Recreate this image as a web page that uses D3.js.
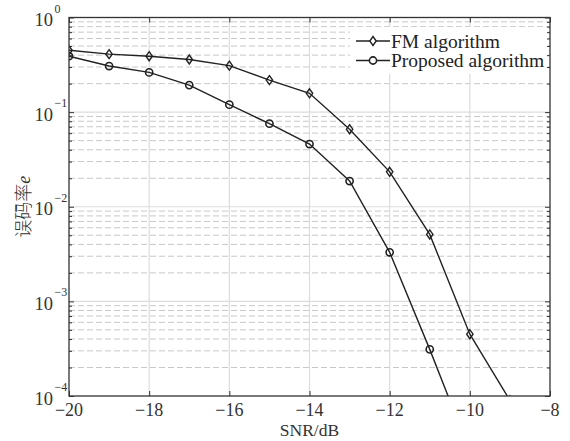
<!doctype html>
<html>
<head>
<meta charset="utf-8">
<script src="https://cdn.jsdelivr.net/npm/d3@7"></script>
<style>
  body { margin: 0; background: #fff; }
</style>
</head>
<body>
<svg id="chart" width="570" height="441" font-family="'Liberation Serif', 'Times New Roman', serif"></svg>
<script>
// values
const snr = [-20, -19, -18, -17, -16, -15, -14, -13, -12, -11, -10, -9];
const fmBer = [0.45, 0.41, 0.39, 0.36, 0.31, 0.218, 0.158, 0.066, 0.0234, 0.0051, 0.00045, 0.00009];
const snrProp = [-20, -19, -18, -17, -16, -15, -14, -13, -12, -11, -10];
const propBer = [0.39, 0.307, 0.263, 0.193, 0.120, 0.0755, 0.046, 0.0187, 0.0033, 0.000311, 0.000026];
const xTicks = [-20, -18, -16, -14, -12, -10, -8];
const yExps = [0, -1, -2, -3, -4];
const legendNames = ["FM algorithm", "Proposed algorithm"];

const svg = d3.select("#chart");
const margin = {top: 17.5, left: 69};
const W = 550, H = 396;
const ink = "#222";

const x = d3.scaleLinear().domain([-20, -8]).range([margin.left, W]);
const y = d3.scaleLog().domain([1e-4, 1]).range([H, margin.top]);

// minor decade values
const minors = [];
for (let e = -4; e < 0; e++) for (let m = 2; m <= 9; m++) minors.push(m * Math.pow(10, e));

svg.append("defs").append("clipPath").attr("id", "clip")
  .append("rect").attr("x", margin.left).attr("y", margin.top)
  .attr("width", W - margin.left).attr("height", H - margin.top);

const grid = svg.append("g");
grid.selectAll(".mn").data(minors).enter().append("line")
  .attr("x1", margin.left).attr("x2", W)
  .attr("y1", d => y(d)).attr("y2", d => y(d))
  .attr("stroke", "#c8c8c8").attr("stroke-width", 1).attr("stroke-dasharray", "6,3");
grid.selectAll(".mj").data(yExps.slice(1, 4)).enter().append("line")
  .attr("x1", margin.left).attr("x2", W)
  .attr("y1", d => y(Math.pow(10, d))).attr("y2", d => y(Math.pow(10, d)))
  .attr("stroke", "#dcdcdc").attr("stroke-width", 1.2);
grid.selectAll(".vx").data(xTicks.slice(1, -1)).enter().append("line")
  .attr("x1", d => x(d)).attr("x2", d => x(d))
  .attr("y1", margin.top).attr("y2", H)
  .attr("stroke", "#dcdcdc").attr("stroke-width", 1.2);

// series
const plot = svg.append("g").attr("clip-path", "url(#clip)");
const fmData = snr.map((s, i) => ({x: s, y: fmBer[i]}));
const propData = snrProp.map((s, i) => ({x: s, y: propBer[i]}));
const line = d3.line().x(d => x(d.x)).y(d => y(d.y));

plot.append("path").datum(fmData).attr("d", line)
  .attr("fill", "none").attr("stroke", ink).attr("stroke-width", 1.4);
plot.append("path").datum(propData).attr("d", line)
  .attr("fill", "none").attr("stroke", ink).attr("stroke-width", 1.4);

const diamond = "M0,-4.5L3.2,0L0,4.5L-3.2,0Z";
plot.selectAll(".dm").data(fmData).enter().append("path")
  .attr("d", diamond)
  .attr("transform", d => `translate(${x(d.x)},${y(d.y)})`)
  .attr("fill", "none").attr("stroke", ink).attr("stroke-width", 1.4);
plot.selectAll(".ci").data(propData).enter().append("circle")
  .attr("cx", d => x(d.x)).attr("cy", d => y(d.y)).attr("r", 3.6)
  .attr("fill", "none").attr("stroke", ink).attr("stroke-width", 1.6);

// legend
const lg = svg.append("g");
lg.append("rect").attr("x", 350).attr("y", 27).attr("width", 198).attr("height", 47).attr("fill", "#fff");
legendNames.forEach((name, i) => {
  const ly = 41 + i * 19.5;
  lg.append("line").attr("x1", 356).attr("x2", 390).attr("y1", ly).attr("y2", ly)
    .attr("stroke", ink).attr("stroke-width", 1.4);
  if (i === 0) {
    lg.append("path").attr("d", diamond).attr("transform", `translate(373,${ly})`)
      .attr("fill", "#fff").attr("stroke", ink).attr("stroke-width", 1.4);
  } else {
    lg.append("circle").attr("cx", 373).attr("cy", ly).attr("r", 3.6)
      .attr("fill", "#fff").attr("stroke", ink).attr("stroke-width", 1.6);
  }
  lg.append("text").attr("x", 391).attr("y", ly + 6.5).attr("font-size", 19.5)
    .attr("fill", ink).text(name);
});

// axes box and ticks
const axisCol = "#333";
svg.append("rect").attr("x", margin.left).attr("y", margin.top)
  .attr("width", W - margin.left).attr("height", H - margin.top)
  .attr("fill", "none").attr("stroke", axisCol).attr("stroke-width", 1.3);

svg.append("g").attr("transform", `translate(0,${H})`)
  .call(d3.axisBottom(x).tickValues(xTicks).tickSize(-5).tickFormat(""))
  .call(g => { g.select(".domain").remove(); g.selectAll("line").attr("stroke", axisCol); });
svg.append("g").attr("transform", `translate(0,${margin.top})`)
  .call(d3.axisTop(x).tickValues(xTicks).tickSize(-5).tickFormat(""))
  .call(g => { g.select(".domain").remove(); g.selectAll("line").attr("stroke", axisCol); });

const yMajor = yExps.map(e => Math.pow(10, e));
[[d3.axisLeft, margin.left], [d3.axisRight, W]].forEach(([ax, pos]) => {
  svg.append("g").attr("transform", `translate(${pos},0)`)
    .call(ax(y).tickValues(minors).tickSize(-3).tickFormat(""))
    .call(g => { g.select(".domain").remove(); g.selectAll("line").attr("stroke", axisCol); });
  svg.append("g").attr("transform", `translate(${pos},0)`)
    .call(ax(y).tickValues(yMajor).tickSize(-5).tickFormat(""))
    .call(g => { g.select(".domain").remove(); g.selectAll("line").attr("stroke", axisCol); });
});

// x tick labels
svg.selectAll(".xl").data(xTicks).enter().append("text")
  .attr("x", d => x(d)).attr("y", H + 20).attr("text-anchor", "middle")
  .attr("font-size", 18).attr("fill", "#333")
  .text(d => d < 0 ? "\u2212" + Math.abs(d) : d);

// y tick labels 10^e
yExps.forEach(e => {
  const yy = y(Math.pow(10, e));
  svg.append("text").attr("x", 53).attr("y", yy + 8.5).attr("text-anchor", "end")
    .attr("font-size", 18.5).attr("fill", "#333").text("10");
  svg.append("text").attr("x", 54.5).attr("y", yy - 5).attr("font-size", 12)
    .attr("fill", "#333").text(e === 0 ? "0" : "\u2212" + Math.abs(e));
});

// axis titles
svg.append("text").attr("x", (margin.left + W) / 2).attr("y", 436)
  .attr("text-anchor", "middle").attr("font-size", 17.5).attr("fill", "#333").text("SNR/dB");
const yl = svg.append("text").attr("transform", `translate(30,${(margin.top + H) / 2}) rotate(-90)`)
  .attr("text-anchor", "middle").attr("font-size", 18).attr("fill", "#333");
yl.append("tspan").attr("font-family", "'Noto Sans CJK SC'").attr("font-weight", 300).text("误码率");
yl.append("tspan").attr("font-style", "italic").text("e");
</script>
</body>
</html>
